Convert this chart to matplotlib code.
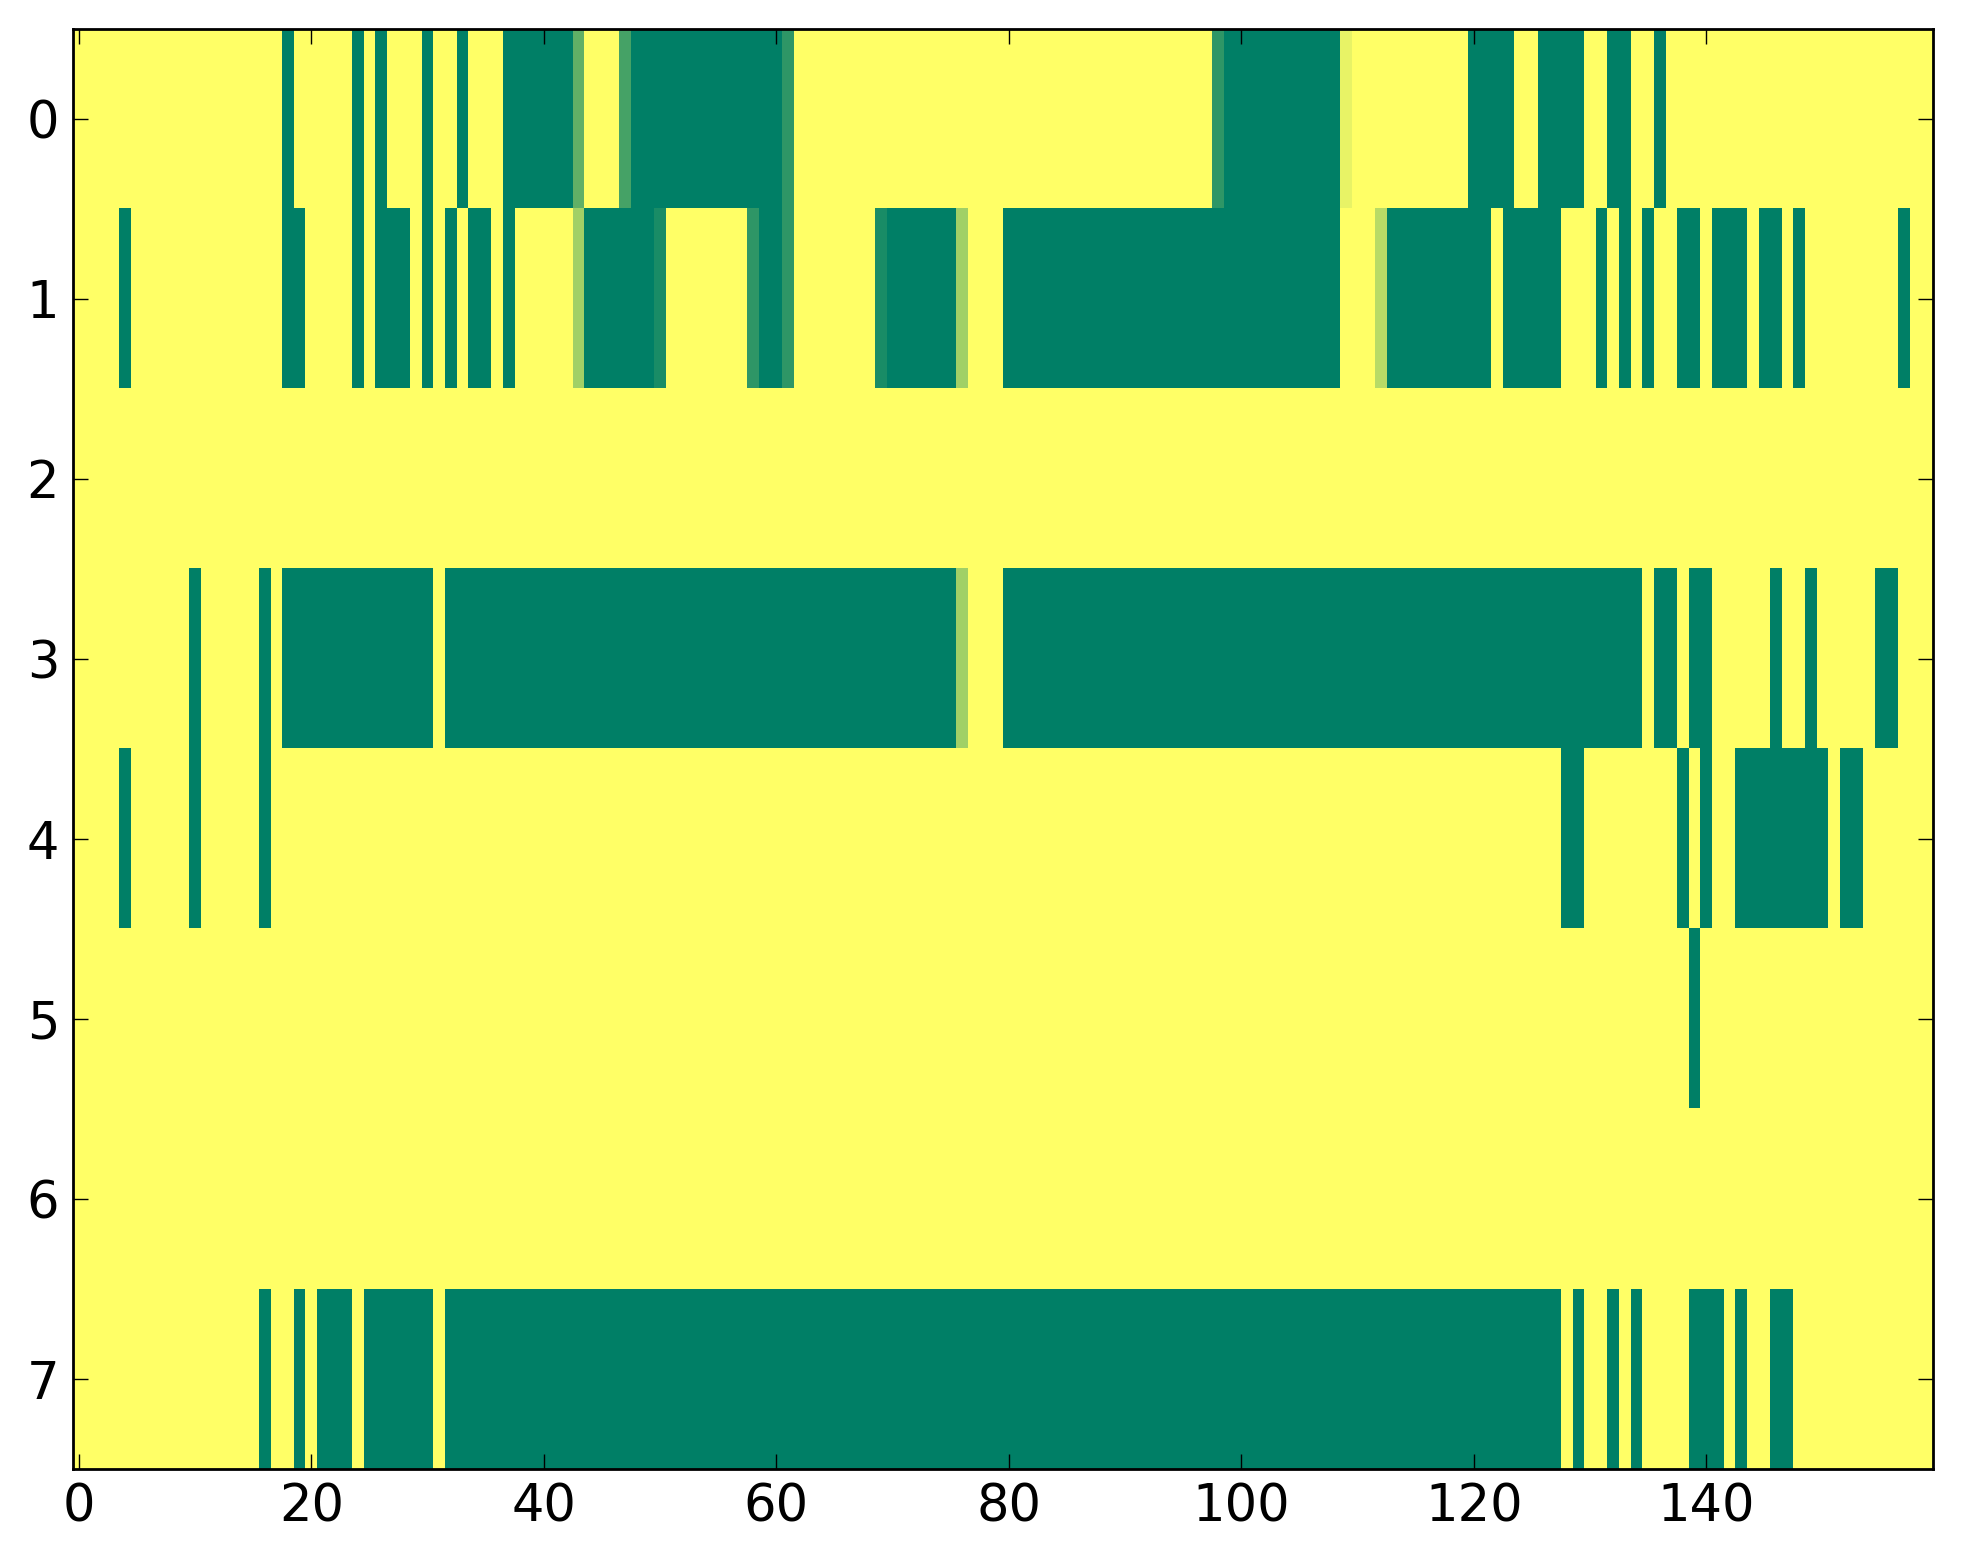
import numpy as np
import matplotlib
matplotlib.use("Agg")
import matplotlib.pyplot as plt

# each row: (value, run length) read left to right, 160 columns
row0 = [(1, 18), (0, 1), (1, 5), (0, 1), (1, 1), (0, 1), (1, 3), (0, 1), (1, 2),
        (0, 1), (1, 3), (0, 6), (0.38, 1), (1, 3), (0.27, 1), (0, 13), (0.18, 1),
        (1, 36), (0.18, 1), (0, 10), (0.91, 1), (1, 10), (0, 4), (1, 2), (0, 4),
        (1, 2), (0, 2), (1, 2), (0, 1), (1, 23)]
row1 = [(1, 4), (0, 1), (1, 13), (0, 2), (1, 4), (0, 1), (1, 1), (0, 3), (1, 1),
        (0, 1), (1, 1), (0, 1), (1, 1), (0, 2), (1, 1), (0, 1), (1, 5), (0.63, 1),
        (0, 6), (0.1, 1), (1, 7), (0.18, 1), (0, 2), (0.18, 1), (1, 7), (0.1, 1),
        (0, 6), (0.63, 1), (1, 3), (0, 29), (1, 3), (0.72, 1), (0, 9), (1, 1),
        (0, 5), (1, 3), (0, 1), (1, 1), (0, 1), (1, 1), (0, 1), (1, 2), (0, 2),
        (1, 1), (0, 3), (1, 1), (0, 2), (1, 1), (0, 1), (1, 8), (0, 1), (1, 2)]
row2 = [(1, 160)]
row3 = [(1, 10), (0, 1), (1, 5), (0, 1), (1, 1), (0, 13), (1, 1), (0, 44),
        (0.63, 1), (1, 3), (0, 55), (1, 1), (0, 2), (1, 1), (0, 2), (1, 5),
        (0, 1), (1, 2), (0, 1), (1, 5), (0, 2), (1, 3)]
row4 = [(1, 4), (0, 1), (1, 5), (0, 1), (1, 5), (0, 1), (1, 111), (0, 2),
        (1, 8), (0, 1), (1, 1), (0, 1), (1, 2), (0, 8), (1, 1), (0, 2), (1, 6)]
row5 = [(1, 139), (0, 1), (1, 20)]
row6 = [(1, 160)]
row7 = [(1, 16), (0, 1), (1, 2), (0, 1), (1, 1), (0, 3), (1, 1), (0, 6), (1, 1),
        (0, 96), (1, 1), (0, 1), (1, 2), (0, 1), (1, 1), (0, 1), (1, 4), (0, 3),
        (1, 1), (0, 1), (1, 2), (0, 2), (1, 12)]

rows = [row0, row1, row2, row3, row4, row5, row6, row7]


def expand(runs):
    vals = [v for v, _ in runs]
    lens = [n for _, n in runs]
    return np.repeat(vals, lens)


grid = np.vstack([expand(r) for r in rows])

fig = plt.figure(figsize=(9.815, 7.82), dpi=200)
ax = fig.add_axes([0.0372, 0.0607, 0.9475, 0.9208])
ax.imshow(grid, cmap="summer", vmin=0, vmax=1, aspect="auto",
          interpolation="nearest")

ax.set_xticks([0, 20, 40, 60, 80, 100, 120, 140])
ax.set_yticks(range(8))
ax.tick_params(direction="in", top=True, right=True, length=5.5, width=0.5,
               labelsize=18.4, pad=5)
for sp in ax.spines.values():
    sp.set_linewidth(1.0)

fig.savefig("out.png", dpi=200)
